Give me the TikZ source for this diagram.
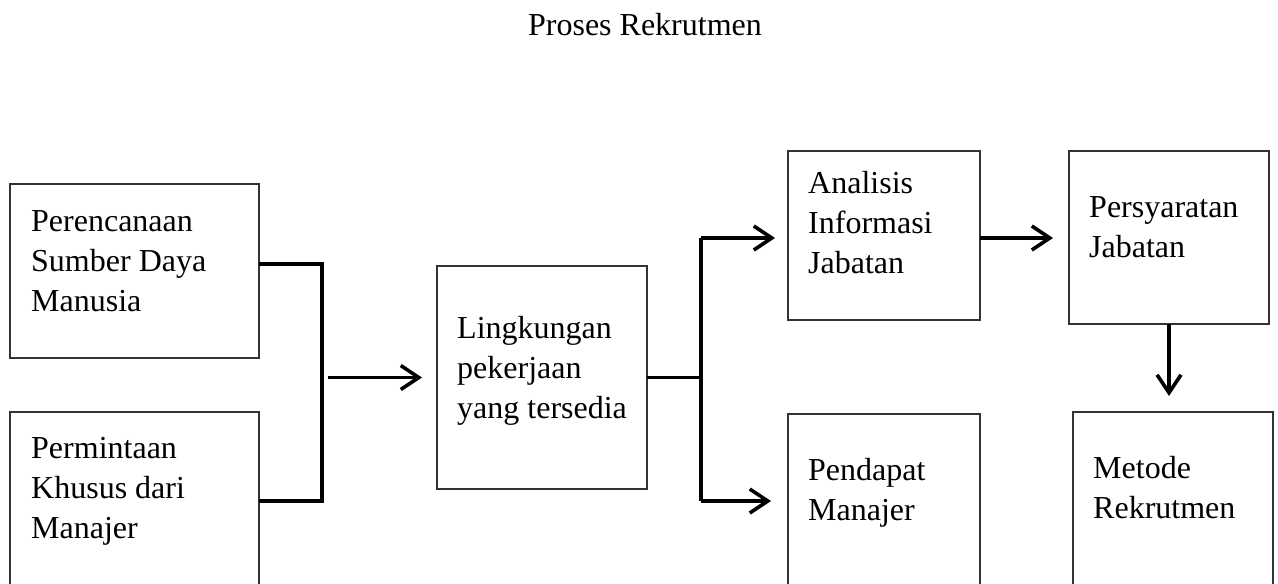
\documentclass[tikz,border=0pt]{standalone}
\usepackage{fontspec}
\setmainfont{Liberation Serif}
\usetikzlibrary{positioning,arrows.meta}
\begin{document}
\begin{tikzpicture}[x=1pt,y=-1pt,
    box/.style={draw=black!80,line width=1.2pt,inner sep=0pt,outer sep=0pt,anchor=north west},
    txt/.style={align=left,inner sep=0pt,font=\fontsize{32}{40}\selectfont},
    conn/.style={line width=3.6pt},
    arr/.style={conn,-{Straight Barb[length=18pt,width=24pt,line width=3.6pt]}}]
  \useasboundingbox (0,0) rectangle (1278,584);
  \node[txt,anchor=base] (title) at (645,35) {Proses Rekrutmen};
  % boxes
  \node[box,minimum width=249pt,minimum height=174pt] (perenc) at (10,184) {};
  \node[box,minimum width=249pt,minimum height=178pt] (minta) at (10,412) {};
  \node[box,minimum width=210pt,minimum height=223pt] (lingk) at (437,266) {};
  \node[box,minimum width=192pt,minimum height=169pt] (analisis) at (788,151) {};
  \node[box,minimum width=192pt,minimum height=180pt] (pendapat) at (788,414) {};
  \node[box,minimum width=200pt,minimum height=173pt] (syarat) at (1069,151) {};
  \node[box,minimum width=200pt,minimum height=180pt] (metode) at (1073,412) {};
  % texts
  \node[txt,below right=19pt and 21pt of perenc.north west] (perenc-t) {\strut Perencanaan\\Sumber Daya\\Manusia};
  \node[txt,below right=18pt and 21pt of minta.north west] (minta-t) {\strut Permintaan\\Khusus dari\\Manajer};
  \node[txt,below right=44pt and 20pt of lingk.north west] (lingk-t) {\strut Lingkungan\\pekerjaan\\yang tersedia};
  \node[txt,below right=14pt and 20pt of analisis.north west] (analisis-t) {\strut Analisis\\Informasi\\Jabatan};
  \node[txt,below right=38pt and 20pt of pendapat.north west] (pendapat-t) {\strut Pendapat\\Manajer};
  \node[txt,below right=38pt and 20pt of syarat.north west] (syarat-t) {\strut Persyaratan\\Jabatan};
  \node[txt,below right=38pt and 20pt of metode.north west] (metode-t) {\strut Metode\\Rekrutmen};
  % connectors
  \coordinate (j1) at (322,264);
  \coordinate (j2) at (322,501);
  \coordinate (k1) at (701,238);
  \coordinate (k2) at (701,501);
  \draw[conn] (perenc.east |- j1) -- (j1) -- (j2) -- (minta.east |- j2);
  \draw[arr,shorten <=6pt,shorten >=15pt] (j1 |- lingk.west) -- (lingk.west);
  \draw[conn] (lingk.east) -- (k1 |- lingk.east);
  \draw[conn] (k1) -- (k2);
  \draw[arr,shorten >=13pt] (k1) -- (analisis.west |- k1);
  \draw[arr,shorten >=17pt] (k2) -- (pendapat.west |- k2);
  \draw[arr,shorten >=16pt] (analisis.east |- k1) -- (syarat.west |- k1);
  \draw[arr,shorten >=16pt] (syarat.south) -- (syarat.south |- metode.north);
\end{tikzpicture}
\end{document}
